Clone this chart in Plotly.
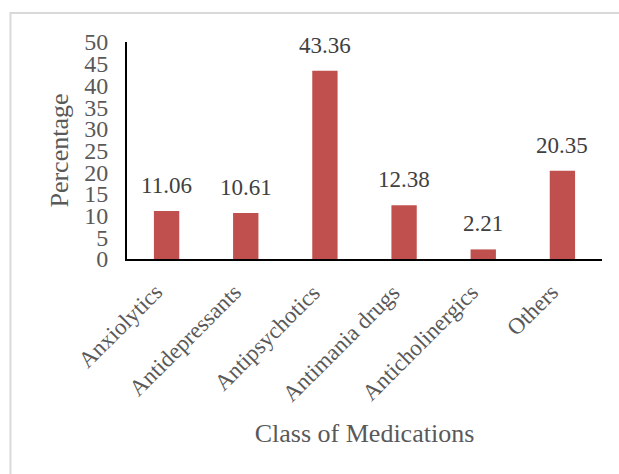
import plotly.graph_objects as go

categories = ["Anxiolytics", "Antidepressants", "Antipsychotics", "Antimania drugs", "Anticholinergics", "Others"]
percentages = [11.06, 10.61, 43.36, 12.38, 2.21, 20.35]
y_ticks = [0, 5, 10, 15, 20, 25, 30, 35, 40, 45, 50]

FONT = "Liberation Serif, Times New Roman, serif"

fig = go.Figure()
fig.add_trace(go.Bar(
    x=categories, y=percentages,
    marker=dict(color="#C0504D", line=dict(width=0)),
    cliponaxis=False,
))

# value labels above bars
annotations = [
    dict(x=c, y=v, xref="x", yref="y", text=f"{v:.2f}", showarrow=False,
         yanchor="bottom", yshift=11,
         font=dict(family=FONT, size=23, color="#404040"))
    for c, v in zip(categories, percentages)
]
# rotated category labels (end of text at the category centre)
annotations += [
    dict(x=c, y=0, xref="x", yref="y", text=c, showarrow=False,
         textangle=-45, xanchor="right", yanchor="top", yshift=-18, xshift=3,
         font=dict(family=FONT, size=23, color="#595959"))
    for c in categories
]

fig.update_layout(
    width=619, height=474,
    margin=dict(l=127, r=17, t=42, b=215, autoexpand=False),
    paper_bgcolor="white", plot_bgcolor="white",
    bargap=0.68,
    showlegend=False,
    font=dict(family=FONT, color="#595959"),
    annotations=annotations,
    shapes=[dict(type="rect", xref="paper", yref="paper",
                 x0=-0.2453, x1=1.06, y0=-1.03, y1=1.1336,
                 line=dict(color="#D9D9D9", width=2), fillcolor="rgba(0,0,0,0)", layer="below")],
)
fig.update_xaxes(
    automargin=False,
    categoryorder="array", categoryarray=categories,
    range=[-0.5, len(categories) - 0.5], autorange=False,
    showline=True, linecolor="#000000", linewidth=2,
    showgrid=False, ticks="", showticklabels=False,
    title=dict(text="Class of Medications", font=dict(family=FONT, size=26, color="#595959"), standoff=164),
)
fig.update_yaxes(
    automargin=False,
    range=[0, 50], autorange=False, tickvals=y_ticks,
    showline=True, linecolor="#000000", linewidth=2,
    showgrid=False, zeroline=False, ticks="",
    ticklabelstandoff=12,
    tickfont=dict(family=FONT, size=24, color="#595959"),
    title=dict(text="Percentage", font=dict(family=FONT, size=26, color="#595959"), standoff=8),
)

fig.write_html("out.html", config={"displayModeBar": False},
               post_script="document.body.style.margin='0';")
